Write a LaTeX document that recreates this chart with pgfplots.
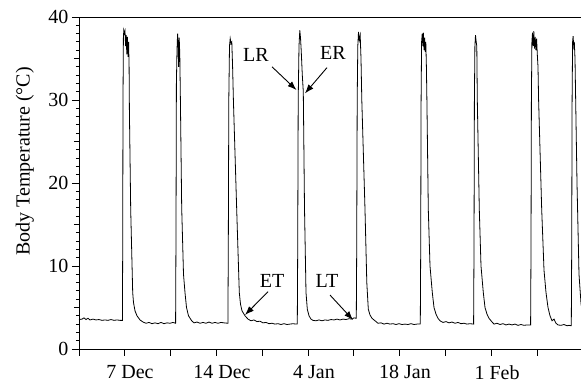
\documentclass[border=0pt]{standalone}
\usepackage{fontspec}
\setmainfont{Liberation Serif}
\usepackage{pgfplots}
\pgfplotsset{compat=1.18}
\usetikzlibrary{arrows.meta}
\newcommand{\chfont}{\fontsize{20}{24}\selectfont}
\begin{document}
\begin{tikzpicture}
\begin{axis}[
  name=ax,
  scale only axis, width=502pt, height=332pt,
  xmin=79, xmax=581, ymin=0, ymax=40,
  axis x line*=bottom, axis y line*=left,
  axis line style={-, line width=0.9pt},
  /pgf/number format/assume math mode=true,
  tick label style={font=\chfont},
  tick align=outside,
  tick style={line width=0.8pt, black},
  major tick length=7pt, minor tick length=3pt,
  xtick={79,124,170,216,262,308,353,399,445,491,537},
  xticklabels={,7 Dec,,14 Dec,,4 Jan,,18 Jan,,1 Feb,},
  xticklabel style={xshift=6pt, yshift=-6pt},
  ytick={0,10,20,30,40},
  minor y tick num=9,
  extra y ticks={5,15,25,35},
  extra y tick labels={},
  extra y tick style={major tick length=5pt},
  ylabel={Body Temperature (°C)},
  every axis y label/.style={at={(axis description cs:-0.108,0.565)}, rotate=90, anchor=center, font=\chfont},
  clip=true,
]
\addplot[black, line width=0.8pt] coordinates {
(79,3.55)(82,3.6)(84,3.75)(86,3.55)(88,3.7)(90,3.5)(93,3.6)(96,3.5)(99,3.55)(102,3.45)(105,3.5)(108,3.45)(111,3.55)(114,3.45)(117,3.5)(120,3.45)(122.4,3.45)
(122.7,12)(123.0,30)(123.4,37.5)(123.8,38.4)(124.4,38)(125,38.3)(125.6,36.5)(126.2,37.8)(126.8,35.5)(127.4,37.6)(128,35.2)(128.6,37)(129.1,34)(129.4,28.8)(130.7,16.8)(132.7,6.8)(133.5,5.6)(135,4.6)(137,4)(140,3.5)(143,3.25)
(146,3.1)(149,3.2)(152,3.05)(155,3.15)(158,3.05)(161,3.2)(164,3.05)(167,3.15)(170,3.1)(173,3.2)(175.6,3.1)
(176,14)(176.4,32)(177,36)(177.6,38)(178.1,37)(178.6,34)(179.2,37.5)(179.8,35.5)(180.4,30)(181.7,17)(183.5,9)(185,6.8)(186.5,5)(188.5,4)(191.7,3.4)
(194,3.15)(197,3.25)(200,3.1)(203,3.2)(206,3.1)(209,3.25)(212,3.1)(215,3.2)(218,3.1)(221,3.2)(224,3.15)(227.9,3.1)
(228.3,12)(228.8,30)(229.5,36.5)(230.2,37.4)(231,36.8)(231.8,37)(232.6,34)(233.4,30)(236.7,16.8)(239.3,6.8)(240.5,5.4)(242,4.6)(245,4.0)(248,3.6)
(251,3.4)(254,3.5)(257,3.3)(260,3.35)(263,3.15)(266,3.2)(269,3.05)(272,3.1)(275,3.0)(278,3.05)(281,2.95)(284,3.05)(287,2.95)(290,3.0)(293,3.05)(296,3.0)(297.3,3.0)
(297.7,12)(298.2,30)(299,36.5)(299.8,38.4)(300.5,37.5)(301.2,36)(302.3,33)(303.3,31)(304.5,17)(306,6.8)(307.3,4.8)(309,4.0)(311,3.6)(313,3.45)
(316,3.4)(319,3.5)(322,3.4)(325,3.5)(328,3.45)(331,3.55)(334,3.5)(337,3.6)(340,3.5)(343,3.6)(346,3.55)(349,3.65)(352,3.6)(354,3.75)(356.3,3.7)
(356.7,12)(357.2,30)(357.8,36.5)(358.5,38.2)(359.3,37.2)(360.2,37.8)(361,35)(361.8,30)(365,16.8)(366.8,8)(368.3,4.8)(370,4.1)(372,3.7)(375,3.4)
(378,3.1)(381,3.15)(384,3.0)(387,3.1)(390,3.0)(393,3.05)(396,2.95)(399,3.05)(402,2.95)(405,3.0)(408,2.95)(411,3.05)(414,2.95)(417,3.0)(420.3,3.0)
(420.7,12)(421.1,30)(421.6,37)(422.2,38)(422.8,36.5)(423.4,38.1)(424,36)(424.6,37.5)(425.2,35.8)(425.8,37)(426.4,34)(426.9,30)(428.3,16.8)(430,10)(432.3,6.8)(434,5)(436,4.2)(438,3.7)(440,3.4)
(443,3.2)(446,3.3)(449,3.15)(452,3.25)(455,3.1)(458,3.2)(461,3.05)(464,3.1)(467,3.0)(470,3.05)(473.6,3.0)
(474,12)(474.4,30)(474.9,36.5)(475.5,37.8)(476.2,37)(476.8,36.5)(477.3,30)(479.3,16.8)(481,10)(483.3,6.8)(485,5)(487,4.2)(489,3.7)(491.7,3.3)
(494,3.0)(497,3.1)(500,2.95)(503,3.05)(506,2.9)(509,3.0)(512,2.9)(515,3.0)(518,2.85)(521,2.95)(524,2.85)(527,2.9)(530.6,2.9)
(531,12)(531.4,30)(531.9,37)(532.5,38.1)(533.2,36.5)(533.8,38.3)(534.5,36.2)(535.2,37.6)(535.9,36)(536.6,37.4)(537.3,35.5)(538,34)(538.6,30)(541.7,16.8)(544,9.5)(546,6.8)(548,5)(550,4)(552,3.4)(554,3.6)(556,3.1)(558,2.9)
(561,2.85)(564,2.95)(567,2.8)(569,2.85)(571.3,2.8)
(571.7,12)(572.1,30)(572.6,37)(573.1,37.7)(573.7,36.5)(574.3,37)(575,35)(575.4,32)(577,20)(579,9)(581,5.5)(583,4)
};
\draw[line width=0.9pt] (rel axis cs:0,1) -- (rel axis cs:1,1);
\node[font=\chfont] at (axis cs:256,35.4) {LR};
\node[font=\chfont] at (axis cs:333,35.7) {ER};
\node[font=\chfont] at (axis cs:272,8.2) {ET};
\node[font=\chfont] at (axis cs:327,8.2) {LT};
\draw[line width=0.9pt,-{Latex[length=9pt,width=6.5pt]}] (axis cs:272,34.0) -- (axis cs:296.5,31.2);
\draw[line width=0.9pt,-{Latex[length=9pt,width=6.5pt]}] (axis cs:327,33.9) -- (axis cs:305,30.8);
\draw[line width=0.9pt,-{Latex[length=9pt,width=6.5pt]}] (axis cs:268,6.9) -- (axis cs:245,4.1);
\draw[line width=0.9pt,-{Latex[length=9pt,width=6.5pt]}] (axis cs:330,6.5) -- (axis cs:353,3.5);
\coordinate (bl) at (rel axis cs:0,0);
\coordinate (tr) at (rel axis cs:1,1);
\end{axis}
\pgfresetboundingbox
\path[use as bounding box] ([shift={(-79pt,-35pt)}]bl) rectangle ([shift={(0pt,17pt)}]tr);
\end{tikzpicture}
\end{document}
